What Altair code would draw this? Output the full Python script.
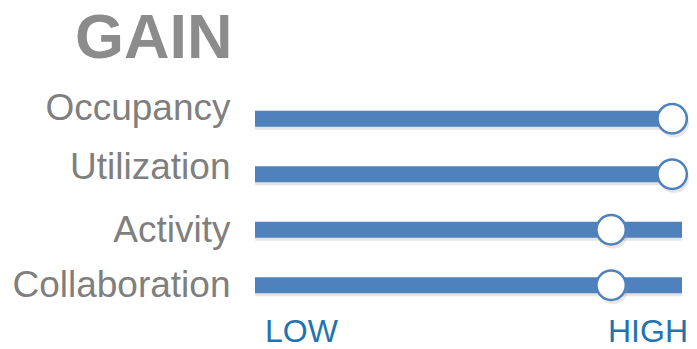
import altair as alt
import pandas as pd

categories = ["Occupancy", "Utilization", "Activity", "Collaboration"]
levels = [0.977, 0.977, 0.834, 0.834]
scale_labels = ["LOW", "HIGH"]
scale_ends = [0, 1]

df = pd.DataFrame({"category": categories, "level": levels})
df["start"] = 0
df["end"] = 1
ends_df = pd.DataFrame({"label": scale_labels, "pos": scale_ends})

BLUE = "#4f81bd"

label_offset = {
    "condition": [
        {"test": "datum.value == 'Occupancy'", "value": 1},
        {"test": "datum.value == 'Utilization'", "value": 5},
    ],
    "value": 12,
}

y_enc = alt.Y(
    "category:N",
    sort=categories,
    scale=alt.Scale(paddingInner=0, paddingOuter=0),
    axis=alt.Axis(
        title=None, ticks=False, domain=False, grid=False,
        labelFont="Liberation Sans", labelFontSize=37, labelColor="#7f7f7f",
        labelPadding=25, labelAlign="right", labelBaseline="alphabetic",
        labelOffset=label_offset, labelLimit=0,
    ),
)
x_scale = alt.Scale(domain=[0, 1], nice=False, zero=False)

base = alt.Chart(df)

shadow = base.mark_bar(height=16, color="#a8a8a8", opacity=0.3, yOffset=3).encode(
    x=alt.X("start:Q", scale=x_scale, axis=None), x2="end:Q", y=y_enc
)
bars = base.mark_bar(height=16, color=BLUE).encode(
    x=alt.X("start:Q", scale=x_scale, axis=None), x2="end:Q", y=y_enc
)
knob_shadow = base.mark_point(
    filled=True, shape="circle", size=880, color="#a0a0a0", opacity=0.25,
    xOffset=2, yOffset=4,
).encode(x=alt.X("level:Q", scale=x_scale, axis=None), y=y_enc)
knobs = base.mark_point(
    filled=True, shape="circle", size=860, fill="white", stroke=BLUE,
    strokeWidth=2.5, opacity=1,
).encode(x=alt.X("level:Q", scale=x_scale, axis=None), y=y_enc)

ends_base = alt.Chart(ends_df)
low = ends_base.transform_filter("datum.pos == 0").mark_text(
    font="Liberation Sans", fontSize=32, color="#1f74b0", baseline="alphabetic",
    align="left", dx=10,
).encode(x=alt.X("pos:Q", scale=x_scale, axis=None), y=alt.value(251), text="label:N")
high = ends_base.transform_filter("datum.pos == 1").mark_text(
    font="Liberation Sans", fontSize=32, color="#1f74b0", baseline="alphabetic",
    align="right", dx=6,
).encode(x=alt.X("pos:Q", scale=x_scale, axis=None), y=alt.value(251), text="label:N")

chart = alt.layer(shadow, bars, knob_shadow, knobs, low, high).properties(
    width=427,
    height=222,
    padding={"left": 247, "top": 83, "right": 7, "bottom": 36},
    autosize=alt.AutoSizeParams(type="none"),
    title=alt.TitleParams(
        "GAIN", font="Liberation Sans", fontSize=63, fontWeight="bold",
        color="#8c8c8c", anchor="start", frame="group", dx=-180, offset=18,
    ),
).configure_view(stroke=None)

chart.save("out.html", embed_options={"renderer": "svg", "actions": False})
